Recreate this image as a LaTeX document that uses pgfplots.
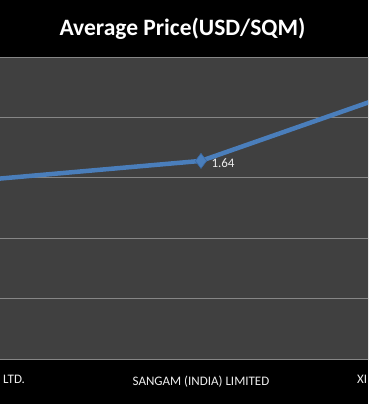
\documentclass[border=0pt]{standalone}
\usepackage{pgfplots}
\pgfplotsset{compat=1.18}
\usepackage{fontspec}
\setmainfont{Carlito}
\definecolor{plotbg}{HTML}{404040}
\definecolor{gridc}{HTML}{868686}
\definecolor{lineblue}{HTML}{4A7EBB}
\definecolor{markedge}{HTML}{3A6AA5}
\definecolor{lbl}{HTML}{EEEEEE}
\begin{document}
\begin{tikzpicture}
\useasboundingbox (0,0) rectangle (368pt,404pt);
\fill[black] (0,0) rectangle (368pt,404pt);
\clip (0,0) rectangle (368pt,404pt);
\node[text=white, font=\fontsize{23.5}{28}\selectfont\bfseries] at (182.5pt,375pt) {Average Price(USD/SQM)};
\begin{axis}[
  at={(-174pt,45pt)}, anchor=south west,
  scale only axis, width=750pt, height=302pt,
  xmin=-0.5, xmax=2.5, ymin=0, ymax=2.5,
  ytick={0,0.5,1,1.5,2,2.5}, yticklabels={},
  ymajorgrids, major grid style={gridc, line width=0.9pt},
  axis background/.style={fill=plotbg},
  axis x line*=bottom, axis y line*=left,
  y axis line style={draw=none},
  x axis line style={gridc, line width=0.9pt, -},
  xtick={0,1,2}, major tick length=0pt,
  xticklabels={\makebox[148pt][r]{LTD.}, SANGAM (INDIA) LIMITED, \makebox[188pt][l]{XI}},
  xticklabel style={text=lbl, font=\fontsize{13}{15}\selectfont, yshift=-13pt},
  clip=false,
]
\addplot[lineblue, line width=4.5pt, mark=diamond*, mark size=7.5pt,
  mark options={fill=lineblue, draw=markedge, line width=0.6pt}]
  coordinates {(0,1.458) (1,1.64) (2,2.363)};
\addplot[draw=none, mark=none, nodes near coords, point meta=explicit symbolic,
  nodes near coords style={anchor=west, xshift=7pt, yshift=-2pt, text=lbl, font=\fontsize{13}{15}\selectfont}]
  coordinates {(1,1.64) [1.64]};
\end{axis}
\end{tikzpicture}
\end{document}
